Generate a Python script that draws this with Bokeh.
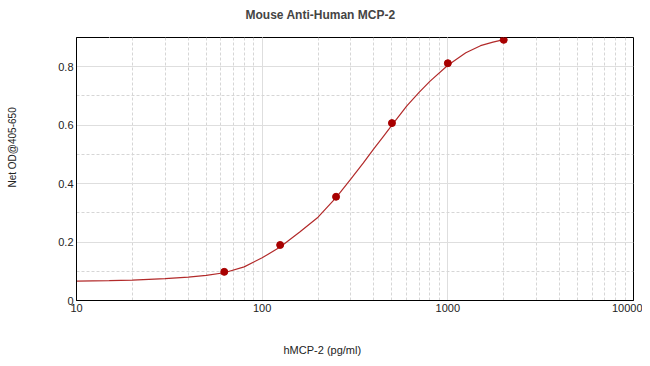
from bokeh.plotting import figure
from bokeh.models import Range1d, FixedTicker, LogTicker, Title, LinearAxis
from bokeh.embed import file_html
from bokeh.resources import INLINE

# standard points
conc = [62.5, 125, 250, 500, 1000, 2000]
od = [0.098, 0.190, 0.355, 0.607, 0.812, 0.892]

# fitted curve
curve_x = [10, 15, 20, 30, 40, 50, 62.5, 80, 100, 125, 160, 200, 250, 300,
           350, 400, 450, 500, 600, 700, 800, 1000, 1250, 1500, 1750, 2000]
curve_y = [0.066, 0.068, 0.070, 0.075, 0.080, 0.086, 0.095, 0.115, 0.146,
           0.183, 0.235, 0.285, 0.352, 0.415, 0.470, 0.520, 0.562, 0.600,
           0.665, 0.712, 0.750, 0.805, 0.848, 0.872, 0.884, 0.893]

y_ticks = [0, 0.2, 0.4, 0.6, 0.8]
y_minor = [0.1, 0.3, 0.5, 0.7]

FONT = "Liberation Sans"

p = figure(width=642, height=358, x_axis_type="log",
           x_range=Range1d(10, 10000), y_range=Range1d(0, 0.9),
           output_backend="svg", toolbar_location=None,
           min_border_left=76, min_border_right=9, min_border_top=37,
           min_border_bottom=58, background_fill_color="white",
           border_fill_color="white")

p.outline_line_color = "black"
p.outline_line_width = 1

p.xaxis.ticker = LogTicker(desired_num_ticks=4, num_minor_ticks=10)
p.xaxis.major_label_overrides = {10: "10", 100: "100", 1000: "1000", 10000: "10000"}
p.yaxis.ticker = FixedTicker(ticks=y_ticks, minor_ticks=y_minor)
p.yaxis.major_label_overrides = {0: "0", 0.2: "0.2", 0.4: "0.4", 0.6: "0.6", 0.8: "0.8"}

for ax in (p.xaxis, p.yaxis):
    ax.major_tick_out = 0
    ax.major_tick_in = 0
    ax.minor_tick_out = 0
    ax.minor_tick_in = 0
    ax.axis_line_color = "black"
    ax.major_label_text_font = FONT
    ax.major_label_text_font_size = "11px"
    ax.major_label_text_color = "#222222"
    ax.major_label_standoff = 3

p.xgrid.grid_line_color = "#dedede"
p.ygrid.grid_line_color = "#dedede"
p.xgrid.minor_grid_line_color = "#d6d6d6"
p.ygrid.minor_grid_line_color = "#d6d6d6"
p.xgrid.minor_grid_line_dash = "3 2"
p.ygrid.minor_grid_line_dash = "3 2"

p.line(curve_x, curve_y, line_color="#b22a2a", line_width=1.2)
p.scatter(conc, od, size=7, fill_color="#a80000", line_color="#a80000")


def spacer(size, at):
    """An invisible axis (white tick, blank label) that only reserves room."""
    return LinearAxis(ticker=FixedTicker(ticks=[at], minor_ticks=[]),
                      axis_line_color=None,
                      major_tick_out=size, major_tick_in=0, minor_tick_out=0,
                      minor_tick_in=0, major_label_standoff=0,
                      major_tick_line_color="white",
                      major_label_overrides={at: ""},
                      major_label_text_font_size="0px")


# title
p.title.text = "Mouse Anti-Human MCP-2"
p.title.text_font = FONT
p.title.text_font_size = "12px"
p.title.text_font_style = "bold"
p.title.align = "left"
p.title.offset = 169
p.title.standoff = 6
p.add_layout(spacer(13, 15), "above")

# y label
p.add_layout(spacer(34, 0.45), "left")
p.add_layout(Title(text="Net OD@405-650", text_font=FONT, text_font_size="10px",
                   text_font_style="normal", text_color="#222222",
                   align="left", vertical_align="top", offset=113,
                   standoff=4), "left")

# x label
p.add_layout(spacer(25, 15), "below")
p.add_layout(Title(text="hMCP-2 (pg/ml)", text_font=FONT, text_font_size="11px",
                   text_font_style="normal", text_color="#222222",
                   align="left", vertical_align="bottom", offset=207,
                   standoff=4), "below")

open("out.html", "w").write(file_html(p, INLINE))
